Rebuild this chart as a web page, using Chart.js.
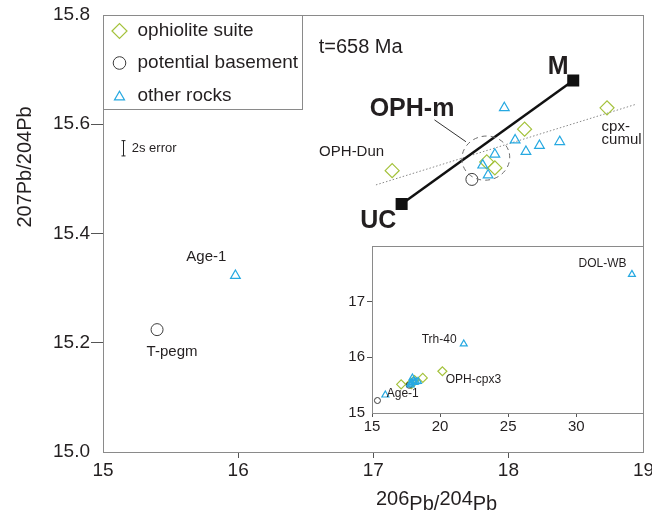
<!DOCTYPE html>
<html>
<head>
<meta charset="utf-8">
<script src="https://cdn.jsdelivr.net/npm/chart.js@4.4.1/dist/chart.umd.min.js"></script>
<style>
html,body{margin:0;padding:0;background:#fff;}
#wrap{position:relative;width:652px;height:514px;overflow:hidden;background:#fff;}
#main{position:absolute;left:0;top:0;width:652px;height:514px;}
#inset{position:absolute;left:332px;top:240px;width:318px;height:195px;}
</style>
</head>
<body>
<div id="wrap">
<canvas id="main" width="652" height="514"></canvas>
<canvas id="inset" width="318" height="195"></canvas>
</div>
<script>
// ---------- data (206Pb/204Pb = x, 207Pb/204Pb = y) ----------
const ophioliteX = [17.14, 17.84, 17.90, 18.12, 18.73];
const ophioliteY = [15.515, 15.531, 15.520, 15.591, 15.630];
const basementX  = [15.40, 17.73];
const basementY  = [15.224, 15.499];
const otherX = [15.98, 17.81, 17.85, 17.90, 17.97, 18.05, 18.13, 18.23, 18.38];
const otherY = [15.323, 15.525, 15.507, 15.545, 15.630, 15.571, 15.550, 15.561, 15.568];
// mixing line end-members: UC, M
const mixX = [17.21, 18.48];
const mixY = [15.454, 15.680];
// regression (dotted) line
const trendX = [17.02, 18.95];
const trendY = [15.489, 15.637];
// samples shown only in the inset (OPH-cpx3 ; Trh-40, DOL-WB)
const insetOphX = [20.17];
const insetOphY = [15.75];
const insetOtherX = [21.74, 34.09];
const insetOtherY = [16.24, 17.49];
// tick values
const mainXTicks = [15, 16, 17, 18, 19];
const mainYTicks = [15.0, 15.2, 15.4, 15.6, 15.8];
const insetXTicks = [15, 20, 25, 30, 35];
const insetYTicks = [15, 16, 17, 18];
// legend labels
const seriesNames = ['ophiolite suite', 'potential basement', 'other rocks'];

// ---------- styles ----------
const FONT = '"Liberation Sans", Arial, Helvetica, sans-serif';
Chart.defaults.font.family = FONT;
Chart.defaults.color = '#231f20';
const C_OPH = '#a4c23c';
const C_BAS = '#3c3c3c';
const C_OTH = '#27a9e1';
const FRAME = '#8a8a8a';

const xy = (xs, ys) => xs.map((x, i) => ({x: x, y: ys[i]}));

const ophStyle = {pointStyle: 'rectRot', pointRadius: 7, borderColor: C_OPH, backgroundColor: 'rgba(0,0,0,0)', borderWidth: 1.2};
const basStyle = {pointStyle: 'circle', pointRadius: 6, borderColor: C_BAS, backgroundColor: 'rgba(0,0,0,0)', borderWidth: 1};
const othStyle = {pointStyle: 'triangle', pointRadius: 5.6, borderColor: C_OTH, backgroundColor: 'rgba(0,0,0,0)', borderWidth: 1.2};

function txt(ctx, s, x, y, font, align) {
  ctx.font = font;
  ctx.textAlign = align || 'center';
  ctx.textBaseline = 'middle';
  ctx.fillStyle = '#231f20';
  ctx.fillText(s, x, y);
}
const noPad = s => { s.paddingLeft = 0; s.paddingRight = 0; s.paddingTop = 0; s.paddingBottom = 0; };

// ---------- main chart decorations ----------
const mainDecor = {
  id: 'mainDecor',
  afterDatasetsDraw(chart) {
    const {ctx, chartArea: ca, scales} = chart;
    const px = v => scales.x.getPixelForValue(v);
    const py = v => scales.y.getPixelForValue(v);
    ctx.save();
    // frame
    ctx.strokeStyle = FRAME; ctx.lineWidth = 1;
    ctx.strokeRect(Math.round(ca.left) + 0.5, Math.round(ca.top) + 0.5,
                   Math.round(ca.right - ca.left) - 1, Math.round(ca.bottom - ca.top));
    // OPH-m field (dashed)
    ctx.setLineDash([5, 4]); ctx.strokeStyle = '#6d6d6d'; ctx.lineWidth = 1;
    ctx.beginPath();
    ctx.ellipse(px(17.833), py(15.538), 24, 22, -0.2, 0, Math.PI * 2);
    ctx.stroke();
    ctx.setLineDash([]);
    // leader line
    ctx.strokeStyle = '#333'; ctx.lineWidth = 1;
    ctx.beginPath();
    ctx.moveTo(px(17.453), py(15.608));
    ctx.lineTo(px(17.686), py(15.568));
    ctx.stroke();
    // 2s error bar
    const ex = Math.round(px(15.149)) + 0.5, e1 = py(15.542), e2 = py(15.570);
    ctx.strokeStyle = '#222';
    ctx.beginPath();
    ctx.moveTo(ex, e1); ctx.lineTo(ex, e2);
    ctx.moveTo(ex - 2, e1); ctx.lineTo(ex + 2, e1);
    ctx.moveTo(ex - 2, e2); ctx.lineTo(ex + 2, e2);
    ctx.stroke();
    txt(ctx, '2s error', px(15.213), py(15.555), '13px ' + FONT, 'left');
    // annotations
    txt(ctx, 't=658 Ma', px(16.596), py(15.741), '20px ' + FONT, 'left');
    txt(ctx, 'OPH-m', px(17.287), py(15.628), 'bold 25px ' + FONT);
    txt(ctx, 'M', px(18.368), py(15.705), 'bold 25px ' + FONT);
    txt(ctx, 'UC', px(17.037), py(15.423), 'bold 25px ' + FONT);
    txt(ctx, 'OPH-Dun', px(16.84), py(15.549), '15px ' + FONT);
    txt(ctx, 'cpx-', px(18.69), py(15.596), '15px ' + FONT, 'left');
    txt(ctx, 'cumul', px(18.69), py(15.571), '15px ' + FONT, 'left');
    txt(ctx, 'Age-1', px(15.765), py(15.357), '15px ' + FONT);
    txt(ctx, 'T-pegm', px(15.511), py(15.183), '15px ' + FONT);
    // legend box
    const lx = Math.round(ca.left) + 0.5, ly = Math.round(ca.top) + 0.5;
    ctx.fillStyle = '#fff';
    ctx.fillRect(lx, ly, 199, 94);
    ctx.strokeStyle = FRAME;
    ctx.strokeRect(lx, ly, 199, 94);
    const styles = [ophStyle, basStyle, othStyle];
    const rowY = [15.5, 47.5, 80];
    const symR = [7.5, 6.3, 5.8];
    const symDy = [0, 0, 1.5];
    styles.forEach((s, i) => {
      ctx.strokeStyle = s.borderColor; ctx.fillStyle = 'rgba(0,0,0,0)';
      ctx.lineWidth = s.borderWidth;
      Chart.helpers.drawPoint(ctx, {pointStyle: s.pointStyle, radius: symR[i], borderWidth: s.borderWidth, rotation: 0},
        lx + 16, ly + rowY[i] + symDy[i]);
      txt(ctx, seriesNames[i], lx + 34, ly + rowY[i], '19px ' + FONT, 'left');
    });
    // axis titles
    ctx.font = '20px ' + FONT;
    ctx.textAlign = 'left'; ctx.textBaseline = 'alphabetic'; ctx.fillStyle = '#231f20';
    let tx = 376;
    const parts = [['206', -5], ['Pb/', 0], ['204', -5], ['Pb', 0]];
    parts.forEach(p => { ctx.fillText(p[0], tx, 510 + p[1]); tx += ctx.measureText(p[0]).width; });
    ctx.save();
    ctx.translate(25, 167); ctx.rotate(-Math.PI / 2);
    ctx.textAlign = 'center'; ctx.textBaseline = 'middle';
    ctx.fillText('207Pb/204Pb', 0, 0);
    ctx.restore();
    ctx.restore();
  }
};

const hideEnds = n => c => (c.index === 0 || c.index === n - 1) ? 'rgba(0,0,0,0)' : '#555';

new Chart(document.getElementById('main'), {
  type: 'scatter',
  data: {
    datasets: [
      Object.assign({label: seriesNames[2], data: xy(otherX, otherY)}, othStyle),
      Object.assign({label: seriesNames[1], data: xy(basementX, basementY)}, basStyle),
      Object.assign({label: seriesNames[0], data: xy(ophioliteX, ophioliteY)}, ophStyle),
      {label: 'UC-M', data: xy(mixX, mixY), showLine: true, borderColor: '#111', borderWidth: 2.5,
       pointStyle: 'rect', pointRadius: 8.5, pointBackgroundColor: '#111', pointBorderWidth: 0},
      {label: 'trend', data: xy(trendX, trendY), showLine: true, borderColor: '#888', borderWidth: 1,
       borderDash: [1.5, 2], pointRadius: 0}
    ]
  },
  options: {
    responsive: false, animation: false, events: [],
    layout: {padding: {top: 15, right: 5, left: 0, bottom: 0}},
    plugins: {legend: {display: false}, tooltip: {enabled: false}},
    scales: {
      x: {
        type: 'linear', min: 15, max: 19,
        afterBuildTicks: s => { s.ticks = mainXTicks.map(v => ({value: v})); },
        afterFit: s => { s.height = 62; noPad(s); },
        grid: {drawOnChartArea: false, drawTicks: true, tickLength: 6, color: hideEnds(mainXTicks.length)},
        border: {display: false},
        ticks: {font: {size: 19}, padding: 1, color: '#231f20', maxRotation: 0, callback: v => String(v)}
      },
      y: {
        type: 'linear', min: 15.0, max: 15.8,
        afterBuildTicks: s => { s.ticks = mainYTicks.map(v => ({value: v})); },
        afterFit: s => { s.width = 103; noPad(s); },
        grid: {drawOnChartArea: false, drawTicks: true, tickLength: 12, color: hideEnds(mainYTicks.length)},
        border: {display: false},
        ticks: {font: {size: 19}, padding: 1, color: '#231f20', callback: v => Number(v).toFixed(1)}
      }
    }
  },
  plugins: [mainDecor]
});

// ---------- inset ----------
const insetDecor = {
  id: 'insetDecor',
  beforeDraw(chart) {
    const {ctx, chartArea: ca} = chart;
    ctx.save(); ctx.fillStyle = '#fff';
    ctx.fillRect(ca.left, ca.top, ca.right - ca.left, ca.bottom - ca.top);
    ctx.restore();
  },
  afterDatasetsDraw(chart) {
    const {ctx, chartArea: ca, scales} = chart;
    const px = v => scales.x.getPixelForValue(v);
    const py = v => scales.y.getPixelForValue(v);
    ctx.save();
    ctx.strokeStyle = FRAME; ctx.lineWidth = 1;
    ctx.strokeRect(Math.round(ca.left) + 0.5, Math.round(ca.top) + 0.5,
                   Math.round(ca.right - ca.left) - 1, Math.round(ca.bottom - ca.top));
    const f = '12px ' + FONT;
    txt(ctx, 'DOL-WB', px(31.93), py(17.68), f);
    txt(ctx, 'Trh-40', px(19.93), py(16.32), f);
    txt(ctx, 'OPH-cpx3', px(22.45), py(15.59), f);
    txt(ctx, 'Age-1', px(17.26), py(15.34), f);
    ctx.restore();
  }
};

new Chart(document.getElementById('inset'), {
  type: 'scatter',
  data: {
    datasets: [
      Object.assign({}, othStyle, {label: seriesNames[2], data: xy(otherX.concat(insetOtherX), otherY.concat(insetOtherY)), pointRadius: 4}),
      Object.assign({}, basStyle, {label: seriesNames[1], data: xy(basementX, basementY), pointRadius: 3}),
      Object.assign({}, ophStyle, {label: seriesNames[0], data: xy(ophioliteX.concat(insetOphX), ophioliteY.concat(insetOphY)), pointRadius: 4.5})
    ]
  },
  options: {
    responsive: false, animation: false, events: [],
    layout: {padding: {top: 6, right: 4, left: 0, bottom: 0}},
    plugins: {legend: {display: false}, tooltip: {enabled: false}},
    scales: {
      x: {
        type: 'linear', min: 15, max: 35,
        afterBuildTicks: s => { s.ticks = insetXTicks.map(v => ({value: v})); },
        afterFit: s => { s.height = 22; noPad(s); },
        grid: {drawOnChartArea: false, drawTicks: true, tickLength: 4, color: c => c.index === insetXTicks.length - 1 ? 'rgba(0,0,0,0)' : '#555'},
        border: {display: false},
        ticks: {font: {size: 15}, padding: 1, color: '#231f20', maxRotation: 0,
                callback: v => v === 35 ? '' : String(v)}
      },
      y: {
        type: 'linear', min: 15, max: 18,
        afterBuildTicks: s => { s.ticks = insetYTicks.map(v => ({value: v})); },
        afterFit: s => { s.width = 40; noPad(s); },
        grid: {drawOnChartArea: false, drawTicks: true, tickLength: 5, color: c => (c.index === 0 || c.index === insetYTicks.length - 1) ? 'rgba(0,0,0,0)' : '#555'},
        border: {display: false},
        ticks: {font: {size: 15}, padding: 2, color: '#231f20', callback: v => v === 18 ? '' : String(v)}
      }
    }
  },
  plugins: [insetDecor]
});
</script>
</body>
</html>
